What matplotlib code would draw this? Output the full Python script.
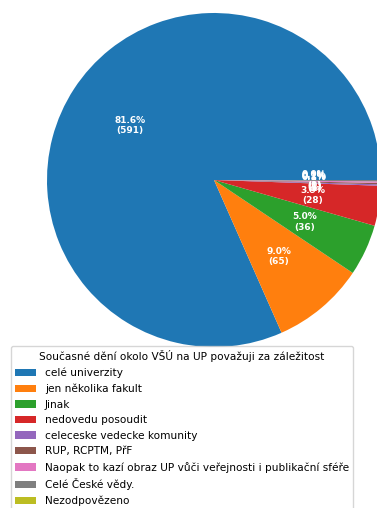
import matplotlib.pyplot as plt

categories = ['celé univerzity', 'jen několika fakult', 'Jinak', 'nedovedu posoudit',
              'celeceske vedecke komunity', 'RUP, RCPTM, PřF',
              'Naopak to kazí obraz UP vůči veřejnosti i publikační sféře',
              'Celé České vědy.', 'Nezodpovězeno']
counts = [591, 65, 36, 28, 1, 1, 1, 1, 0]
total = sum(counts)


def fmt(pct):
    n = int(round(pct * total / 100.0))
    return '%.1f%%\n(%d)' % (pct, n)


fig = plt.figure(figsize=(3.77, 5.08), dpi=100)
ax = fig.add_axes([47/377, 1 - 347/508, 334/377, 334/508])
wedges, texts, autotexts = ax.pie(counts, autopct=fmt, startangle=0,
                                  textprops=dict(color='white', fontsize=6.5, fontweight='bold'))
for w in wedges:
    w.set_clip_on(False)
ax.set_xlim(-1, 1)
ax.set_ylim(-1, 1)
ax.set_aspect('equal')

fig.legend(wedges, categories, title='Současné dění okolo VŠÚ na UP považuji za záležitost',
           loc='upper left', bbox_to_anchor=(11/377, 1 - 346/508), borderaxespad=0,
           fontsize=7.6, title_fontsize=7.6, labelspacing=0.52)

fig.savefig('out.png', dpi=100)
